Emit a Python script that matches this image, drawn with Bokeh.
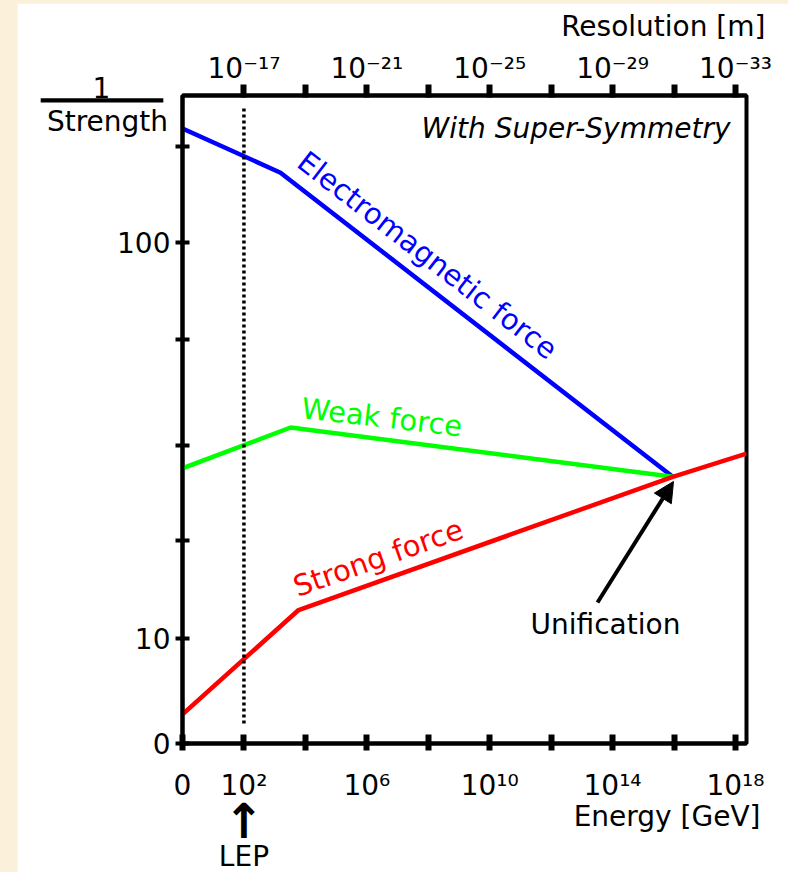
import re
import math
from bokeh.plotting import figure
from bokeh.models import LogAxis, FixedTicker, Label, Arrow, NormalHead, Range1d, Spacer
from bokeh.layouts import row, column
from bokeh.embed import file_html
from bokeh.resources import INLINE

# ---------------- data ----------------
# energy in GeV, values are 1/strength
em_energy = [1, 1.55e3, 9.1e15]
em_inv = [194, 150, 25.6]
weak_energy = [1, 3.3e3, 9.1e15]
weak_inv = [26.9, 34.1, 25.6]
strong_energy = [1, 6.0e3, 9.1e15, 2.29e18]
strong_inv = [6.43, 11.8, 25.6, 29.3]

lep_energy = 1e2
lep_inv_span = [6.1, 218]

energy_ticks = [1, 1e2, 1e4, 1e6, 1e8, 1e10, 1e12, 1e14, 1e16, 1e18]
energy_labels = ["0", "10\u00b2", "", "10\u2076", "", "10\u00b9\u2070", "", "10\u00b9\u2074", "", "10\u00b9\u2078"]
res_ticks = [1e2, 1e4, 1e6, 1e8, 1e10, 1e12, 1e14, 1e16, 1e18]
resolution_labels = ["10\u207b\u00b9\u2077", "", "10\u207b\u00b2\u00b9", "", "10\u207b\u00b2\u2075", "",
                     "10\u207b\u00b2\u2079", "", "10\u207b\u00b3\u00b3"]
inv_ticks = [5.43, 10, 17.7, 30.7, 56.9, 100, 174.6]
inv_labels = ["0", "10", "", "", "", "100", ""]

FONT = "DejaVu Sans"
CREAM = "#FBF1DA"

# page-pixel -> data helpers for annotation placement
def px_x(px):
    return 10 ** ((px - 182) / 30.72)

def px_y(py):
    return 10 ** (2 - (py - 242) / 396.0)

p = figure(width=771, height=869, x_axis_type="log", y_axis_type="log",
           x_range=Range1d(1, 2.29e18), y_range=Range1d(5.43, 235),
           output_backend="svg", toolbar_location=None,
           min_border_left=165, min_border_right=42, min_border_top=92, min_border_bottom=129)
p.background_fill_color = "white"
p.border_fill_color = "white"
p.outline_line_color = "black"
p.outline_line_width = 4
p.xgrid.visible = False
p.ygrid.visible = False

def style_axis(ax, tin, tout, tw, standoff):
    ax.axis_line_width = 4
    ax.axis_line_color = "black"
    ax.major_tick_line_width = tw
    ax.major_tick_line_color = "black"
    ax.major_tick_in = tin
    ax.major_tick_out = tout
    ax.minor_tick_line_color = None
    ax.major_label_text_font = FONT
    ax.major_label_text_font_size = "28px"
    ax.major_label_text_color = "black"
    ax.major_label_standoff = standoff

# bottom axis
xa = p.xaxis[0]
xa.ticker = FixedTicker(ticks=energy_ticks)
xa.major_label_overrides = {t: l for t, l in zip(energy_ticks, energy_labels)}
style_axis(xa, 9, 7, 6, 18)

# left axis
ya = p.yaxis[0]
ya.ticker = FixedTicker(ticks=inv_ticks)
ya.major_label_overrides = {t: l for t, l in zip(inv_ticks, inv_labels)}
style_axis(ya, 7, 7, 4, 5)

# top axis (resolution)
top = LogAxis(ticker=FixedTicker(ticks=res_ticks),
              major_label_overrides={t: l for t, l in zip(res_ticks, resolution_labels)})
style_axis(top, 2, 11, 6, 0)
p.add_layout(top, "above")

# curves
p.line(em_energy, em_inv, line_color="#0000ff", line_width=4.5)
p.line(weak_energy, weak_inv, line_color="#00ff00", line_width=4.5)
p.line(strong_energy, strong_inv, line_color="#ff0000", line_width=4.5)

# LEP dotted line
p.line([lep_energy, lep_energy], lep_inv_span, line_color="black", line_width=3.5, line_dash="3 3")

def lab(text, px, py, place="center", align="left", size=28, color="black",
        style="normal", angle=0.0, x=None):
    # the baseline is drawn about a third of the font size below the anchor: compensate
    sh = 0.33 * size
    px = px - sh * math.sin(angle)
    py = py - sh * math.cos(angle)
    p.add_layout(Label(x=px_x(px) if x is None else x, y=px_y(py), text=text,
                       text_align=align, text_baseline="alphabetic",
                       text_font=FONT, text_font_size="%dpx" % size, text_color=color,
                       text_font_style=style, angle=angle), place)

# curve labels (inside the frame)
lab("Electromagnetic force", 295, 165, size=29, color="#0000ff", angle=-0.658)
lab("Weak force", 300, 417, size=29, color="#00ff00", angle=-0.115)
lab("Strong force", 297, 596, size=29, color="#ff0000", angle=0.34)
lab("With Super-Symmetry", 730, 137, align="right", style="italic")
lab("Unification", 605, 633, align="center")

# texts outside the frame live in the side panels (not clipped there)
lab("Resolution [m]", 765, 35, place="above", align="right")
lab("Energy [GeV]", 760, 825, place="below", align="right")
lab("Strength", 107, 130, place="below", align="center")
lab("LEP", 243, 865, place="left", align="center", x=lep_energy)
lab("\u2191", 243, 836, place="left", align="center", size=48, style="bold", x=lep_energy)
lab("1", 101, 96, place="right", align="center")

# fraction bar
try:
    bar = Label(x=px_x(101.5), y=px_y(100), text=" ", text_align="center", text_baseline="middle",
                text_font=FONT, text_font_size="2px", padding=(61, 1),
                background_fill_color="black", border_line_color=None)
except Exception:
    bar = Label(x=px_x(101.5), y=px_y(100), text="\u2501" * 7, text_align="center",
                text_baseline="middle", text_font=FONT, text_font_size="29px")
p.add_layout(bar, "above")

# unification arrow
p.add_layout(Arrow(end=NormalHead(size=20, fill_color="black", line_color="black"),
                   x_start=px_x(597), y_start=px_y(602), x_end=px_x(673), y_end=px_y(481),
                   line_width=4, line_color="black"))

layout = column(Spacer(width=788, height=3), row(Spacer(width=17, height=869), p))
layout.styles = {"background-color": CREAM}

html = file_html(layout, INLINE)
html = re.sub(r"<body([^>]*)>", r'<body\1 style="background-color:%s;">' % CREAM, html, count=1)
open("out.html", "w").write(html)
